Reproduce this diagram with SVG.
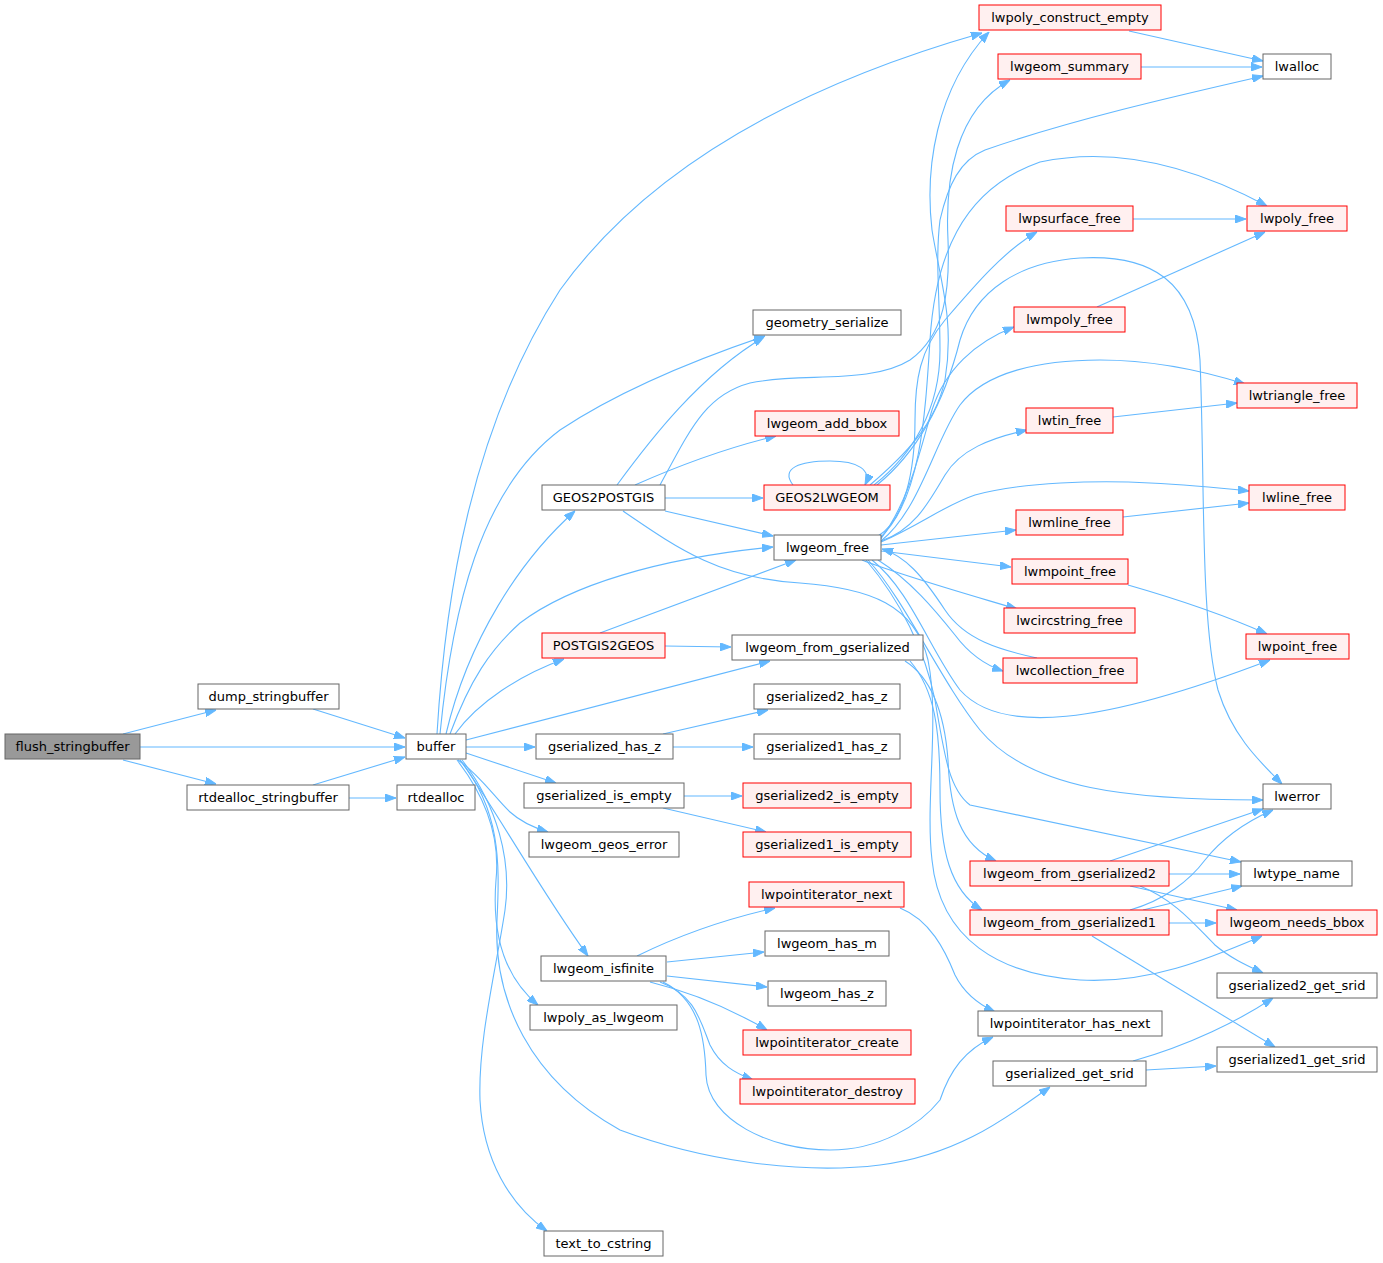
<svg xmlns="http://www.w3.org/2000/svg" width="1383" height="1263" viewBox="0 0 1383 1263">
<style>
text{font-family:"DejaVu Sans","Liberation Sans",sans-serif;font-size:13px;fill:#000;text-anchor:middle}
.n rect{fill:#fff;stroke:#666;stroke-width:1}
.r rect{fill:#fff0f0;stroke:#f00;stroke-width:1}
.root rect{fill:#999;stroke:#666;stroke-width:1}
#edges path{fill:none;stroke:#63b8ff;stroke-width:1.1;marker-end:url(#ah)}
</style>
<defs>
<marker id="ah" viewBox="0 0 11 8" markerWidth="11" markerHeight="8" refX="11" refY="4" orient="auto" markerUnits="userSpaceOnUse">
<path d="M0,0 L11,4 L0,8 z" fill="#63b8ff" stroke="#63b8ff"/>
</marker>
</defs>
<rect width="1383" height="1263" fill="#fff"/>
<g id="edges">
<path d="M123,734 L216,710"/>
<path d="M140,747 L405,747"/>
<path d="M123,760 L216,784"/>
<path d="M313,709 L405,738"/>
<path d="M313,785 L405,757"/>
<path d="M349,798 L396,798"/>
<path d="M437,734 C445,600 470,430 560,290 C650,165 800,85 982,33"/>
<path d="M440,734 C452,610 480,490 560,430 C620,390 700,358 765,336"/>
<path d="M446,734 C468,640 520,560 575,511"/>
<path d="M450,734 C470,680 490,650 520,623 C570,585 660,558 773,547"/>
<path d="M455,734 C478,702 520,675 564,659"/>
<path d="M466,740 L770,661"/>
<path d="M466,747 L535,747"/>
<path d="M466,753 L556,783"/>
<path d="M458,760 C480,775 495,798 510,812 C522,823 535,828 548,832"/>
<path d="M460,760 C490,800 540,890 588,956"/>
<path d="M457,760 C488,800 500,840 496,880 C492,930 502,975 538,1005"/>
<path d="M462,760 C497,805 512,860 505,910 C496,970 478,1040 480,1100 C483,1160 510,1205 547,1231"/>
<path d="M460,760 C500,810 500,860 497,920 C493,1000 530,1080 620,1130 C700,1160 800,1175 880,1165 C960,1155 1010,1115 1050,1087"/>
<path d="M617,485 C650,440 700,375 764,337"/>
<path d="M635,485 C680,465 730,447 776,436"/>
<path d="M665,498 L763,498"/>
<path d="M665,511 L773,536"/>
<path d="M660,485 C690,430 705,395 750,383 C800,372 870,385 910,360 C945,335 950,290 948,240 C945,180 955,110 1010,80"/>
<path d="M623,511 C680,550 720,578 800,583 C870,588 915,605 928,660 C940,720 925,800 932,860 C940,940 1000,975 1080,980 C1150,984 1210,958 1262,936"/>
<path d="M793,485 C780,468 800,461 830,461 C858,461 872,470 865,485"/>
<path d="M870,485 C905,455 935,425 945,380 C955,320 940,280 932,230 C925,170 935,90 989,32"/>
<path d="M874,485 C912,455 940,410 940,350 C940,300 935,260 940,220 C948,185 960,160 985,150 C1070,120 1180,95 1263,76"/>
<path d="M877,485 C920,450 945,400 960,340 C975,290 1020,262 1080,258 C1150,254 1195,280 1200,360 C1205,480 1200,620 1218,690 C1232,735 1258,760 1282,784"/>
<path d="M878,536 C905,520 915,470 915,420 C915,380 920,350 945,320 C975,285 1005,250 1037,232"/>
<path d="M880,538 C920,500 925,420 930,340 C935,260 960,190 1040,162 C1120,145 1200,170 1267,206"/>
<path d="M880,540 C910,500 920,450 932,410 C945,370 975,342 1014,327"/>
<path d="M881,541 C920,510 935,440 960,405 C985,372 1040,360 1100,360 C1160,360 1210,373 1245,384"/>
<path d="M881,541 C915,530 930,500 945,475 C960,450 990,438 1027,430"/>
<path d="M881,542 C920,525 945,505 975,495 C1020,482 1100,480 1150,483 C1190,485 1220,488 1249,491"/>
<path d="M881,545 L1016,530"/>
<path d="M881,551 L1011,567"/>
<path d="M862,560 C900,575 960,592 1017,609"/>
<path d="M878,560 C910,580 935,610 955,635 C970,655 985,665 1003,671"/>
<path d="M1037,658 C1000,650 965,640 945,610 C922,575 905,556 882,549"/>
<path d="M872,560 C910,590 930,650 960,690 C1000,735 1100,725 1270,660"/>
<path d="M868,560 C905,600 940,680 980,730 C1030,790 1130,800 1263,800"/>
<path d="M866,560 C900,600 925,650 935,700 C945,760 950,790 970,805 L1241,862"/>
<path d="M600,633 L796,560"/>
<path d="M665,646 L731,647"/>
<path d="M905,661 C935,680 945,720 948,760 C950,810 960,845 996,861"/>
<path d="M910,661 C935,690 940,730 940,790 C940,850 950,890 982,910"/>
<path d="M663,734 L768,710"/>
<path d="M673,747 L753,747"/>
<path d="M684,796 L742,796"/>
<path d="M663,808 L766,832"/>
<path d="M1129,31 L1263,61"/>
<path d="M1141,67 L1262,67"/>
<path d="M1133,219 L1246,219"/>
<path d="M1097,307 L1265,232"/>
<path d="M1113,417 L1237,403"/>
<path d="M1123,517 L1249,503"/>
<path d="M1128,585 C1170,597 1220,613 1267,634"/>
<path d="M1110,861 L1263,809"/>
<path d="M1169,874 L1240,874"/>
<path d="M1130,886 L1237,910"/>
<path d="M1140,886 C1175,900 1195,925 1215,945 C1230,958 1248,966 1263,973"/>
<path d="M1130,910 C1165,900 1190,880 1205,860 C1225,835 1250,820 1273,810"/>
<path d="M1143,910 L1242,886"/>
<path d="M1169,923 L1216,923"/>
<path d="M1092,936 L1275,1047"/>
<path d="M1133,1061 C1190,1045 1240,1020 1273,998"/>
<path d="M1146,1070 L1216,1066"/>
<path d="M900,908 C930,920 945,950 955,975 C965,995 980,1005 995,1012"/>
<path d="M637,956 C680,935 730,918 775,908"/>
<path d="M667,962 L764,952"/>
<path d="M667,976 L767,987"/>
<path d="M650,982 C690,992 720,1005 745,1018 C755,1023 762,1027 767,1030"/>
<path d="M660,982 C695,995 700,1020 710,1045 C720,1065 735,1073 753,1080"/>
<path d="M663,982 C700,1000 705,1040 706,1075 C708,1120 770,1150 830,1150 C880,1150 920,1125 940,1100 C950,1070 965,1050 993,1037"/>
</g>
<g id="flush_stringbuffer" class="root"><rect x="5" y="734" width="135" height="25"/><text x="72.5" y="751">flush_stringbuffer</text></g>
<g id="dump_stringbuffer" class="n"><rect x="198" y="684" width="141" height="25"/><text x="268.5" y="701">dump_stringbuffer</text></g>
<g id="rtdealloc_stringbuffer" class="n"><rect x="187" y="785" width="162" height="25"/><text x="268" y="802">rtdealloc_stringbuffer</text></g>
<g id="buffer" class="n"><rect x="406" y="734" width="60" height="25"/><text x="436" y="751">buffer</text></g>
<g id="rtdealloc" class="n"><rect x="397" y="785" width="78" height="25"/><text x="436" y="802">rtdealloc</text></g>
<g id="lwpoly_construct_empty" class="r"><rect x="979" y="5" width="182" height="25"/><text x="1070" y="22">lwpoly_construct_empty</text></g>
<g id="lwgeom_summary" class="r"><rect x="998" y="54" width="143" height="25"/><text x="1069.5" y="71">lwgeom_summary</text></g>
<g id="lwalloc" class="n"><rect x="1263" y="54" width="68" height="25"/><text x="1297" y="71">lwalloc</text></g>
<g id="lwpsurface_free" class="r"><rect x="1006" y="206" width="127" height="25"/><text x="1069.5" y="223">lwpsurface_free</text></g>
<g id="lwpoly_free" class="r"><rect x="1247" y="206" width="100" height="25"/><text x="1297" y="223">lwpoly_free</text></g>
<g id="geometry_serialize" class="n"><rect x="753" y="310" width="148" height="25"/><text x="827" y="327">geometry_serialize</text></g>
<g id="lwmpoly_free" class="r"><rect x="1014" y="307" width="111" height="25"/><text x="1069.5" y="324">lwmpoly_free</text></g>
<g id="lwtriangle_free" class="r"><rect x="1237" y="383" width="120" height="25"/><text x="1297" y="400">lwtriangle_free</text></g>
<g id="lwgeom_add_bbox" class="r"><rect x="755" y="411" width="144" height="25"/><text x="827" y="428">lwgeom_add_bbox</text></g>
<g id="lwtin_free" class="r"><rect x="1026" y="408" width="87" height="25"/><text x="1069.5" y="425">lwtin_free</text></g>
<g id="GEOS2POSTGIS" class="n"><rect x="542" y="485" width="123" height="25"/><text x="603.5" y="502">GEOS2POSTGIS</text></g>
<g id="GEOS2LWGEOM" class="r"><rect x="764" y="485" width="126" height="25"/><text x="827" y="502">GEOS2LWGEOM</text></g>
<g id="lwline_free" class="r"><rect x="1249" y="485" width="96" height="25"/><text x="1297" y="502">lwline_free</text></g>
<g id="lwmline_free" class="r"><rect x="1016" y="510" width="107" height="25"/><text x="1069.5" y="527">lwmline_free</text></g>
<g id="lwgeom_free" class="n"><rect x="774" y="535" width="107" height="25"/><text x="827.5" y="552">lwgeom_free</text></g>
<g id="lwmpoint_free" class="r"><rect x="1012" y="559" width="116" height="25"/><text x="1070" y="576">lwmpoint_free</text></g>
<g id="lwcircstring_free" class="r"><rect x="1004" y="608" width="131" height="25"/><text x="1069.5" y="625">lwcircstring_free</text></g>
<g id="POSTGIS2GEOS" class="r"><rect x="542" y="633" width="123" height="25"/><text x="603.5" y="650">POSTGIS2GEOS</text></g>
<g id="lwgeom_from_gserialized" class="n"><rect x="732" y="635" width="191" height="25"/><text x="827.5" y="652">lwgeom_from_gserialized</text></g>
<g id="lwpoint_free" class="r"><rect x="1246" y="634" width="103" height="25"/><text x="1297.5" y="651">lwpoint_free</text></g>
<g id="lwcollection_free" class="r"><rect x="1003" y="658" width="134" height="25"/><text x="1070" y="675">lwcollection_free</text></g>
<g id="gserialized2_has_z" class="n"><rect x="754" y="684" width="146" height="25"/><text x="827" y="701">gserialized2_has_z</text></g>
<g id="gserialized_has_z" class="n"><rect x="536" y="734" width="137" height="25"/><text x="604.5" y="751">gserialized_has_z</text></g>
<g id="gserialized1_has_z" class="n"><rect x="754" y="734" width="146" height="25"/><text x="827" y="751">gserialized1_has_z</text></g>
<g id="gserialized_is_empty" class="n"><rect x="524" y="783" width="160" height="25"/><text x="604" y="800">gserialized_is_empty</text></g>
<g id="gserialized2_is_empty" class="r"><rect x="743" y="783" width="168" height="25"/><text x="827" y="800">gserialized2_is_empty</text></g>
<g id="lwerror" class="n"><rect x="1263" y="784" width="68" height="25"/><text x="1297" y="801">lwerror</text></g>
<g id="lwgeom_geos_error" class="n"><rect x="529" y="832" width="150" height="25"/><text x="604" y="849">lwgeom_geos_error</text></g>
<g id="gserialized1_is_empty" class="r"><rect x="743" y="832" width="168" height="25"/><text x="827" y="849">gserialized1_is_empty</text></g>
<g id="lwgeom_from_gserialized2" class="r"><rect x="970" y="861" width="199" height="25"/><text x="1069.5" y="878">lwgeom_from_gserialized2</text></g>
<g id="lwtype_name" class="n"><rect x="1241" y="861" width="111" height="25"/><text x="1296.5" y="878">lwtype_name</text></g>
<g id="lwpointiterator_next" class="r"><rect x="749" y="882" width="155" height="25"/><text x="826.5" y="899">lwpointiterator_next</text></g>
<g id="lwgeom_from_gserialized1" class="r"><rect x="970" y="910" width="199" height="25"/><text x="1069.5" y="927">lwgeom_from_gserialized1</text></g>
<g id="lwgeom_needs_bbox" class="r"><rect x="1217" y="910" width="160" height="25"/><text x="1297" y="927">lwgeom_needs_bbox</text></g>
<g id="lwgeom_has_m" class="n"><rect x="765" y="931" width="124" height="25"/><text x="827" y="948">lwgeom_has_m</text></g>
<g id="lwgeom_isfinite" class="n"><rect x="541" y="956" width="125" height="25"/><text x="603.5" y="973">lwgeom_isfinite</text></g>
<g id="lwgeom_has_z" class="n"><rect x="768" y="981" width="118" height="25"/><text x="827" y="998">lwgeom_has_z</text></g>
<g id="gserialized2_get_srid" class="n"><rect x="1217" y="973" width="160" height="25"/><text x="1297" y="990">gserialized2_get_srid</text></g>
<g id="lwpoly_as_lwgeom" class="n"><rect x="530" y="1005" width="147" height="25"/><text x="603.5" y="1022">lwpoly_as_lwgeom</text></g>
<g id="lwpointiterator_has_next" class="n"><rect x="978" y="1011" width="184" height="25"/><text x="1070" y="1028">lwpointiterator_has_next</text></g>
<g id="lwpointiterator_create" class="r"><rect x="743" y="1030" width="168" height="25"/><text x="827" y="1047">lwpointiterator_create</text></g>
<g id="gserialized_get_srid" class="n"><rect x="993" y="1061" width="153" height="25"/><text x="1069.5" y="1078">gserialized_get_srid</text></g>
<g id="gserialized1_get_srid" class="n"><rect x="1217" y="1047" width="160" height="25"/><text x="1297" y="1064">gserialized1_get_srid</text></g>
<g id="lwpointiterator_destroy" class="r"><rect x="740" y="1079" width="175" height="25"/><text x="827.5" y="1096">lwpointiterator_destroy</text></g>
<g id="text_to_cstring" class="n"><rect x="544" y="1231" width="119" height="25"/><text x="603.5" y="1248">text_to_cstring</text></g>
</svg>
